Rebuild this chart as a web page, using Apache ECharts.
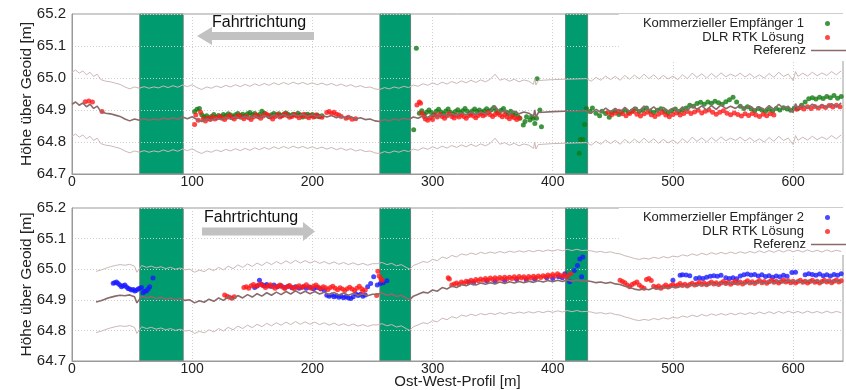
<!DOCTYPE html>
<html><head><meta charset="utf-8">
<script src="https://cdn.jsdelivr.net/npm/echarts@6/dist/echarts.min.js"></script>
<style>html,body{margin:0;padding:0;background:#fff}#c{width:846px;height:390px}</style>
</head><body><div id="c"></div>
<script>
// ---------- names ----------
const nameRecv1 = 'Kommerzieller Empfänger 1';
const nameRecv2 = 'Kommerzieller Empfänger 2';
const nameRtk = 'DLR RTK Lösung';
const nameRef = 'Referenz';
const yAxisTitle = 'Höhe über Geoid [m]';
const xAxisTitle = 'Ost-West-Profil [m]';
const arrowText = 'Fahrtrichtung';

// ---------- axes ----------
const xMin = 0, xMax = 641.5, xStep = 100;
const yMin = 64.7, yMax = 65.2, yStep = 0.1;

// obstacle sections (green bars), [from, to] in m
const obstacles = [[56.4, 92.5], [256.2, 281.7], [410.7, 429]];
// tolerance band around the reference, m
const bandOffset = 0.1;

// ---------- top panel ----------
const topRef = [[0,64.918],[3,64.925],[6,64.915],[9,64.922],[12,64.910],[15,64.918],[18,64.905],[21,64.912],[24,64.895],[28,64.890],[32,64.888],[36,64.884],[40,64.880],[44,64.872],[48,64.866],[52,64.872],[56,64.868],[60,64.873],[64,64.868],[68,64.872],[72,64.869],[76,64.875],[80,64.870],[84,64.876],[88,64.871],[92,64.878],[96,64.873],[100,64.879],[104,64.870],[108,64.864],[112,64.872],[116,64.868],[120,64.875],[124,64.870],[128,64.877],[132,64.872],[136,64.879],[140,64.873],[144,64.880],[148,64.874],[152,64.882],[156,64.876],[160,64.883],[164,64.877],[168,64.885],[172,64.879],[176,64.886],[180,64.880],[184,64.887],[188,64.881],[192,64.886],[196,64.880],[200,64.885],[204,64.879],[208,64.884],[212,64.878],[216,64.883],[220,64.876],[224,64.881],[228,64.874],[232,64.879],[236,64.872],[240,64.876],[244,64.870],[248,64.872],[252,64.866],[256,64.864],[260,64.870],[264,64.866],[268,64.872],[272,64.868],[276,64.874],[280,64.870],[284,64.878],[288,64.874],[292,64.882],[296,64.877],[300,64.885],[304,64.879],[308,64.887],[312,64.881],[316,64.889],[320,64.883],[324,64.891],[328,64.885],[332,64.893],[336,64.886],[340,64.894],[344,64.888],[348,64.896],[352,64.912],[356,64.893],[360,64.898],[364,64.890],[368,64.896],[372,64.888],[376,64.894],[380,64.890],[384,64.880],[385,64.900],[386,64.878],[388,64.892],[392,64.893],[400,64.895],[410,64.896],[420,64.897],[428,64.898],[432,64.890],[436,64.902],[440,64.893],[444,64.906],[448,64.895],[452,64.905],[456,64.893],[460,64.908],[464,64.896],[468,64.909],[472,64.897],[476,64.912],[480,64.898],[484,64.910],[488,64.896],[492,64.908],[496,64.897],[500,64.906],[504,64.895],[508,64.910],[512,64.898],[516,64.915],[520,64.902],[524,64.913],[528,64.900],[532,64.914],[536,64.902],[540,64.916],[544,64.904],[548,64.912],[552,64.905],[556,64.915],[560,64.903],[564,64.913],[568,64.901],[572,64.910],[576,64.900],[580,64.914],[584,64.902],[588,64.918],[592,64.905],[596,64.912],[600,64.892],[602,64.920],[604,64.905],[608,64.915],[612,64.906],[616,64.918],[620,64.907],[624,64.916],[628,64.908],[632,64.920],[636,64.910],[640,64.922]];

const topRecv1 = [[102,64.895],[104,64.902],[106,64.905],[108,64.885],[110,64.878],[112,64.882],[114,64.875],[116,64.880],[118,64.886],[120,64.878],[122,64.883],[124,64.880],[126,64.886],[128,64.882],[130,64.888],[132,64.884],[134,64.879],[136,64.885],[138,64.889],[140,64.883],[142,64.887],[144,64.882],[146,64.888],[148,64.892],[150,64.885],[152,64.889],[154,64.883],[156,64.886],[158,64.896],[160,64.890],[162,64.884],[164,64.880],[166,64.885],[168,64.889],[170,64.884],[172,64.888],[174,64.882],[176,64.886],[178,64.891],[180,64.886],[182,64.882],[184,64.887],[186,64.884],[188,64.890],[190,64.885],[192,64.878],[194,64.884],[196,64.887],[198,64.883],[200,64.886],[202,64.880],[204,64.884],[206,64.879],[208,64.882],
[284.3,64.838],[286.5,65.093],[289,64.890],[291,64.898],[293,64.886],[295,64.893],[297,64.900],[299,64.892],[301,64.884],[303,64.896],[305,64.902],[307,64.894],[309,64.888],[311,64.897],[313,64.903],[315,64.893],[317,64.887],[319,64.895],[321,64.901],[323,64.892],[325,64.898],[327,64.905],[329,64.896],[331,64.889],[333,64.897],[335,64.903],[337,64.895],[339,64.900],[341,64.893],[343,64.898],[345,64.904],[347,64.896],[349,64.901],[351,64.908],[353,64.898],[355,64.892],[357,64.899],[359,64.905],[361,64.894],[363,64.888],[365,64.896],[367,64.884],[369,64.890],[371,64.880],[372.7,64.874],[375.5,64.853],[376.9,64.864],[378.2,64.879],[381,64.869],[382.4,64.879],[383.8,64.874],[385.1,64.858],[386.5,64.874],[387,64.998],[389.3,64.900],[390.6,64.848],
[422,64.765],[423,64.808],[425,64.808],[426.5,64.855],
[428,64.905],[431,64.895],[433,64.906],[436,64.890],[439,64.882],[441,64.896],[444,64.889],[447,64.877],[449,64.892],[452,64.898],[455,64.886],[457,64.894],[460,64.899],[463,64.892],[466,64.897],[469,64.903],[472,64.895],[475,64.900],[478,64.906],[481,64.897],[484,64.892],[487,64.899],[490,64.904],[493,64.896],[496,64.890],[499,64.898],[502,64.903],[505,64.895],[508,64.900],[511,64.906],[514,64.915],[517,64.912],[520,64.920],[523,64.924],[526,64.918],[529,64.925],[532,64.921],[535,64.927],[538,64.923],[541,64.918],[544,64.926],[547,64.932],[550,64.940],[553,64.925],[556,64.912],[559,64.905],[562,64.910],[565,64.904],[568,64.898],[571,64.905],[574,64.900],[577,64.896],[580,64.902],[583,64.897],[586,64.905],[589,64.900],[592,64.907],[595,64.903],[598,64.899],[601,64.906],[604,64.905],[607,64.915],[610,64.925],[613,64.935],[616,64.938],[619,64.934],[622,64.940],[625,64.936],[628,64.942],[631,64.938],[634,64.945],[637,64.937],[640,64.942]];

const topRtk = [[11,64.926],[14,64.928],[17,64.925],[25,64.895],
[102,64.855],[103,64.884],[105,64.868],[107,64.893],[109,64.872],[111,64.866],[113,64.874],[115,64.870],[117,64.878],[119,64.872],[121,64.876],[123,64.880],[125,64.874],[127,64.870],[129,64.877],[131,64.882],[133,64.876],[135,64.872],[137,64.879],[139,64.883],[141,64.877],[143,64.873],[145,64.880],[147,64.876],[149,64.870],[151,64.878],[153,64.884],[155,64.879],[157,64.874],[159,64.881],[161,64.888],[163,64.884],[165,64.878],[167,64.872],[169,64.880],[171,64.885],[173,64.878],[175,64.882],[177,64.888],[179,64.883],[181,64.877],[183,64.880],[185,64.886],[187,64.881],[189,64.876],[191,64.882],[193,64.887],[195,64.880],[197,64.876],[199,64.883],[201,64.878],[203,64.884],[205,64.880],[208,64.877],[212,64.892],[214,64.895],[216,64.889],[218,64.893],[220,64.887],[222,64.884],[224,64.880],[228,64.874],[230,64.877],[233,64.871],[236,64.873],
[287,64.916],[289,64.925],[290,64.921],[291,64.890],[293,64.880],[294,64.872],[296,64.868],[298,64.876],[300,64.870],[302,64.884],[304,64.878],[306,64.886],[308,64.880],[310,64.874],[312,64.882],[314,64.888],[316,64.880],[318,64.875],[320,64.883],[322,64.878],[324,64.884],[326,64.880],[328,64.874],[330,64.882],[332,64.887],[334,64.881],[336,64.876],[338,64.883],[340,64.888],[342,64.882],[344,64.886],[346,64.892],[348,64.885],[350,64.880],[352,64.886],[354,64.891],[356,64.884],[358,64.879],[360,64.885],[362,64.878],[364,64.873],[366,64.880],[368,64.876],[370,64.870],[372,64.875],
[446,64.892],[449,64.885],[452,64.890],[455,64.896],[458,64.888],[461,64.882],[464,64.889],[467,64.895],[470,64.887],[473,64.881],[476,64.888],[479,64.893],[482,64.885],[485,64.880],[488,64.887],[491,64.892],[494,64.884],[497,64.879],[500,64.886],[503,64.891],[506,64.884],[509,64.889],[512,64.895],[515,64.889],[518,64.894],[521,64.899],[524,64.891],[527,64.896],[530,64.900],[533,64.893],[536,64.887],[539,64.893],[542,64.898],[545,64.890],[548,64.885],[551,64.891],[554,64.886],[557,64.881],[560,64.888],[563,64.883],[566,64.889],[569,64.884],[572,64.880],[575,64.887],[578,64.882],[581,64.888],[584,64.884],[603,64.902],[606,64.908],[609,64.903],[612,64.910],[615,64.905],[618,64.911],[621,64.906],[624,64.912],[627,64.908],[630,64.914],[633,64.909],[636,64.915],[639,64.910]];

// ---------- bottom panel ----------
const botRef = [[20,64.893],[24,64.897],[28,64.903],[32,64.908],[36,64.912],[40,64.915],[44,64.913],[48,64.916],[52,64.910],[54,64.890],[58,64.912],[62,64.906],[66,64.910],[70,64.904],[74,64.908],[78,64.902],[82,64.906],[86,64.900],[90,64.904],[94,64.898],[98,64.900],[102,64.890],[106,64.897],[110,64.892],[114,64.902],[118,64.895],[122,64.906],[126,64.898],[130,64.910],[134,64.902],[138,64.914],[142,64.906],[146,64.917],[150,64.909],[154,64.920],[158,64.912],[162,64.923],[166,64.915],[170,64.925],[174,64.917],[178,64.927],[182,64.919],[186,64.929],[190,64.920],[194,64.928],[198,64.920],[202,64.927],[206,64.919],[210,64.925],[214,64.917],[218,64.924],[222,64.916],[226,64.922],[230,64.915],[234,64.921],[238,64.914],[242,64.919],[246,64.913],[250,64.918],[254,64.918],[258,64.922],[262,64.915],[266,64.919],[270,64.911],[274,64.915],[278,64.906],[281,64.900],[284,64.912],[288,64.918],[292,64.925],[296,64.922],[300,64.932],[304,64.928],[308,64.940],[312,64.935],[316,64.945],[320,64.940],[324,64.950],[328,64.946],[332,64.953],[336,64.948],[340,64.955],[344,64.951],[348,64.956],[352,64.952],[356,64.958],[360,64.953],[364,64.959],[368,64.955],[372,64.960],[376,64.956],[380,64.961],[384,64.957],[388,64.962],[392,64.958],[396,64.963],[400,64.959],[404,64.964],[408,64.960],[412,64.965],[416,64.961],[420,64.965],[424,64.961],[428,64.962],[432,64.960],[436,64.956],[440,64.958],[444,64.954],[448,64.957],[452,64.952],[456,64.950],[460,64.944],[464,64.940],[468,64.935],[472,64.932],[476,64.936],[480,64.933],[484,64.939],[488,64.935],[492,64.941],[496,64.937],[500,64.943],[504,64.940],[508,64.947],[512,64.943],[516,64.950],[520,64.945],[524,64.952],[528,64.947],[532,64.954],[536,64.949],[540,64.955],[544,64.950],[548,64.956],[552,64.951],[556,64.957],[560,64.952],[564,64.958],[568,64.953],[572,64.960],[576,64.954],[580,64.961],[584,64.955],[588,64.962],[592,64.956],[596,64.963],[600,64.957],[604,64.962],[608,64.956],[612,64.963],[616,64.957],[620,64.962],[624,64.956],[628,64.963],[632,64.957],[636,64.962],[640,64.958]];

const botRecv2 = [[34.3,64.954],[35.6,64.956],[37,64.958],[38.4,64.953],[39.8,64.948],[41.2,64.943],[42.6,64.946],[44,64.948],[45.4,64.942],[46.7,64.937],[48,64.935],[49.5,64.932],[51,64.934],[52.2,64.929],[53.6,64.931],[55,64.935],[56.4,64.938],[57.8,64.940],[59.1,64.923],[60.5,64.928],[61.9,64.929],[63.3,64.935],[64.6,64.943],[67.4,64.971],
[152,64.940],[154,64.945],[156,64.964],[158,64.950],[160,64.946],[162,64.950],[165,64.944],[168,64.948],[171,64.943],[174,64.946],[177,64.940],[180,64.944],[183,64.939],[186,64.943],[189,64.938],[192,64.942],[195,64.938],[198,64.941],[201,64.936],[204,64.940],[207,64.935],[210,64.930],[212,64.915],[214,64.912],[216,64.916],[218,64.910],[220,64.913],[222,64.908],[224,64.912],[226,64.907],[228,64.911],[230,64.906],[232,64.904],[234,64.910],[236,64.920],[238,64.914],[240,64.918],[242,64.912],[244,64.916],
[246,64.943],[248.5,64.953],[251,64.975],[254,64.948],[256.5,64.953],[259,64.956],[262,64.962],
[330,64.958],[334,64.955],[345,64.962],[352,64.960],[360,64.963],[370,64.966],[378,64.965],[385,64.968],[395,64.972],[400,64.970],[405,64.975],[408,64.972],
[410,64.985],[414,64.959],[418,64.996],[420.5,65.012],[422.5,65.033],[424,64.975],[425,65.040],
[500,64.964],[506,64.980],[508,64.982],[511,64.981],[514,64.979],[519,64.970],[522,64.972],[525,64.970],[528,64.974],[531,64.977],[534,64.979],[537,64.977],[540,64.980],[544,64.972],[547,64.970],[550,64.972],[553,64.969],[556,64.978],[559,64.982],[562,64.984],[565,64.981],[568,64.983],[571,64.978],[574,64.982],[577,64.976],[580,64.979],[583,64.974],[586,64.978],[589,64.975],[592,64.980],[595,64.977],[599,64.989],[602,64.990],[610,64.982],[613,64.985],[616,64.983],[619,64.980],[622,64.984],[625,64.979],[628,64.982],[631,64.978],[634,64.983],[637,64.980],[640,64.985]];

const botRtk = [[127,64.916],[129,64.912],[131,64.908],[133,64.905],[135,64.910],
[143,64.940],[145,64.943],[147,64.938],[149,64.946],[151,64.950],[153,64.944],[155,64.948],[157,64.952],[159,64.946],[161,64.940],[163,64.945],[165,64.949],[167,64.943],[169,64.938],[171,64.944],[173,64.948],[175,64.942],[177,64.937],[179,64.943],[181,64.947],[183,64.941],[185,64.936],[187,64.942],[189,64.946],[191,64.940],[193,64.944],[195,64.949],[197,64.943],[199,64.938],[201,64.944],[203,64.948],[205,64.942],[207,64.937],[209,64.943],[211,64.939],[213,64.934],[215,64.940],[217,64.944],[219,64.938],[221,64.933],[223,64.939],[225,64.935],[227,64.930],[229,64.936],[231,64.941],[233,64.935],[235,64.930],[237,64.938],[239,64.944],[241,64.936],[242,64.928],[244,64.932],
[253.5,64.914],[254.5,64.993],[255.5,64.978],[257,64.969],[258,64.964],
[313,64.972],[314,64.968],[316,64.948],[318,64.952],[320,64.955],[322,64.950],[324,64.958],[326,64.954],[328,64.961],[330,64.957],[332,64.964],[334,64.960],[336,64.966],[338,64.962],[340,64.968],[342,64.964],[344,64.970],[346,64.965],[348,64.971],[350,64.966],[352,64.972],[354,64.967],[356,64.973],[358,64.968],[360,64.974],[362,64.969],[364,64.974],[366,64.970],[368,64.975],[370,64.970],[372,64.976],[374,64.971],[376,64.975],[378,64.970],[380,64.976],[382,64.971],[384,64.977],[386,64.972],[388,64.978],[390,64.973],[392,64.979],[394,64.975],[396,64.981],[398,64.977],[400,64.983],[402,64.978],[404,64.985],[406,64.980],[408,64.976],[410,64.982],[412,64.975],[415,64.985],
[456,64.964],[458,64.960],[460,64.956],[462,64.948],[464,64.943],[466,64.950],[468,64.954],[470,64.958],[472,64.948],[474,64.942],[476,64.938],[478,64.966],[480,64.970],[482,64.963],[484,64.944],[486,64.940],[488,64.945],[490,64.938],[492,64.943],[494,64.948],[496,64.942],[498,64.946],[500,64.950],[502,64.944],[504,64.948],[506,64.953],[508,64.947],[510,64.951],[512,64.945],[514,64.950],[516,64.954],[518,64.948],[520,64.952],[522,64.957],[524,64.950],[526,64.955],[528,64.949],[530,64.953],[532,64.958],[534,64.952],[536,64.956],[538,64.950],[540,64.955],[542,64.960],[544,64.953],[546,64.957],[548,64.951],[550,64.956],[552,64.961],[554,64.954],[556,64.958],[558,64.952],[560,64.957],[562,64.962],[564,64.955],[566,64.959],[568,64.953],[570,64.958],[572,64.963],[574,64.956],[576,64.960],[578,64.954],[580,64.959],[582,64.964],[584,64.957],[586,64.961],[588,64.955],[590,64.960],[592,64.965],[594,64.958],[596,64.962],[598,64.956],[600,64.961],[602,64.955],[604,64.960],[606,64.964],[608,64.957],[610,64.961],[612,64.955],[614,64.960],[616,64.964],[618,64.957],[620,64.961],[622,64.955],[624,64.960],[626,64.964],[628,64.958],[630,64.962],[632,64.956],[634,64.961],[636,64.965],[638,64.958],[640,64.962]];

// ---------- styling ----------
const FONT = '"Liberation Sans", Arial, sans-serif';
const cGreen = '#117a11', cRed = '#ff1a1a', cBlue = '#1a1aff';
const cRef = '#8a6a6a', cBand = '#cdb7b7', cBar = '#009b6e';

const band = (arr, k) => arr.map(p => [p[0], +(p[1] + k * bandOffset).toFixed(4)]);

function xAxisCfg(idx, withName) {
  return {
    type: 'value', gridIndex: idx, min: xMin, max: xMax, interval: xStep,
    axisLine: { show: true, lineStyle: { color: '#9a9a9a' } },
    axisTick: { show: false },
    axisLabel: { fontFamily: FONT, fontSize: 14, color: '#222', margin: 1,
      formatter: v => (Math.abs(v % 100) < 1e-6 ? String(v) : '') },
    splitLine: { show: true, lineStyle: { color: '#cfcfcf', type: [1, 2] } },
    name: withName ? xAxisTitle : '', nameLocation: 'middle', nameGap: 13, nameMoveOverlap: false,
    nameTextStyle: { fontFamily: FONT, fontSize: 15, color: '#222' }
  };
}
function yAxisCfg(idx) {
  return {
    type: 'value', gridIndex: idx, min: yMin, max: yMax, interval: yStep,
    axisLine: { show: true, lineStyle: { color: '#9a9a9a' } },
    axisTick: { show: false },
    axisLabel: { fontFamily: FONT, fontSize: 15, color: '#222', margin: 6,
      formatter: v => v.toFixed(1) },
    splitLine: { show: true, lineStyle: { color: '#cfcfcf', type: [1, 2] } },
    name: yAxisTitle, nameLocation: 'middle', nameRotate: 90, nameGap: 37, nameMoveOverlap: false,
    nameTextStyle: { fontFamily: FONT, fontSize: 15.5, color: '#222' }
  };
}
const legendText = { fontFamily: FONT, fontSize: 13, color: '#222', lineHeight: 13 };
function legendDots(top, recvName) {
  return {
    orient: 'vertical', right: 0, top: top, align: 'right',
    itemWidth: 37, itemHeight: 5, itemGap: 1,
    backgroundColor: '#fff', padding: [3, 16, 17, 24],
    textStyle: legendText,
    data: [{ name: recvName, icon: 'circle' }, { name: nameRtk, icon: 'circle' }],
    selectedMode: false
  };
}
function legendLine(top) {
  return {
    orient: 'vertical', right: 0, top: top, align: 'right',
    itemWidth: 35, itemHeight: 1.6, itemGap: 0,
    backgroundColor: 'rgba(0,0,0,0)', padding: 0,
    textStyle: legendText,
    data: [{ name: nameRef, icon: 'rect' }],
    selectedMode: false
  };
}
function panelSeries(idx, ref, recv, recvName, recvColor, rtk) {
  const common = { xAxisIndex: idx, yAxisIndex: idx, silent: true, animation: false };
  return [
    Object.assign({ type: 'scatter', name: recvName, data: recv, symbolSize: 5,
      itemStyle: { color: recvColor }, z: 3 }, common),
    Object.assign({ type: 'scatter', name: nameRtk, data: rtk, symbolSize: 5,
      itemStyle: { color: cRed }, z: 4 }, common),
    Object.assign({ type: 'line', name: 'band+' + idx, data: band(ref, 1), showSymbol: false, symbol: 'none',
      clip: false, lineStyle: { color: cBand, width: 1 }, z: 10 }, common),
    Object.assign({ type: 'line', name: 'band-' + idx, data: band(ref, -1), showSymbol: false, symbol: 'none',
      clip: false, lineStyle: { color: cBand, width: 1 }, z: 10 }, common),
    Object.assign({ type: 'line', name: nameRef, data: ref, showSymbol: false, symbol: 'none',
      clip: false, lineStyle: { color: cRef, width: 1.6 }, itemStyle: { color: cRef }, z: 11 }, common)
  ];
}

const arrows = [
  { type: 'polygon', silent: true, z: 10,
    shape: { points: [[197, 36], [212, 27], [212, 32], [314, 32], [314, 40], [212, 40], [212, 45]] },
    style: { fill: '#c2c2c2' } },
  { type: 'text', silent: true, z: 10, x: 212, y: 23,
    style: { text: arrowText, font: '16px ' + FONT, fill: '#111', verticalAlign: 'middle' } },
  { type: 'polygon', silent: true, z: 10,
    shape: { points: [[315, 231.5], [303, 222], [303, 227.5], [202, 227.5], [202, 235.5], [303, 235.5], [303, 241]] },
    style: { fill: '#c2c2c2' } },
  { type: 'text', silent: true, z: 10, x: 204, y: 218,
    style: { text: arrowText, font: '16px ' + FONT, fill: '#111', verticalAlign: 'middle' } }
];

const chart = echarts.init(document.getElementById('c'), null, { renderer: 'canvas' });
chart.setOption({
  animation: false,
  backgroundColor: '#fff',
  grid: [
    { left: 72, top: 14, width: 774, height: 160, show: true, borderColor: '#9a9a9a', borderWidth: 1, containLabel: false },
    { left: 72, top: 208, width: 774, height: 156, show: true, borderColor: '#9a9a9a', borderWidth: 1, containLabel: false }
  ],
  xAxis: [xAxisCfg(0, false), xAxisCfg(1, true)],
  yAxis: [yAxisCfg(0), yAxisCfg(1)],
  legend: [legendDots(14, nameRecv1), legendLine(44), legendDots(208, nameRecv2), legendLine(238)],
  series: panelSeries(0, topRef, topRecv1, nameRecv1, cGreen, topRtk)
    .concat(panelSeries(1, botRef, botRecv2, nameRecv2, cBlue, botRtk))
});

// obstacle bars, positioned through the axes' own scales, drawn beneath the series
const bars = [];
[0, 1].forEach(g => {
  obstacles.forEach(o => {
    const a = chart.convertToPixel({ gridIndex: g }, [o[0], yMax]);
    const b = chart.convertToPixel({ gridIndex: g }, [o[1], yMin]);
    bars.push({ type: 'rect', silent: true, z: -5,
      shape: { x: a[0], y: a[1], width: b[0] - a[0], height: b[1] - a[1] },
      style: { fill: cBar, stroke: '#5b8372', lineWidth: 1 } });
  });
});
chart.setOption({ graphic: bars.concat(arrows) });
</script>
</body></html>
